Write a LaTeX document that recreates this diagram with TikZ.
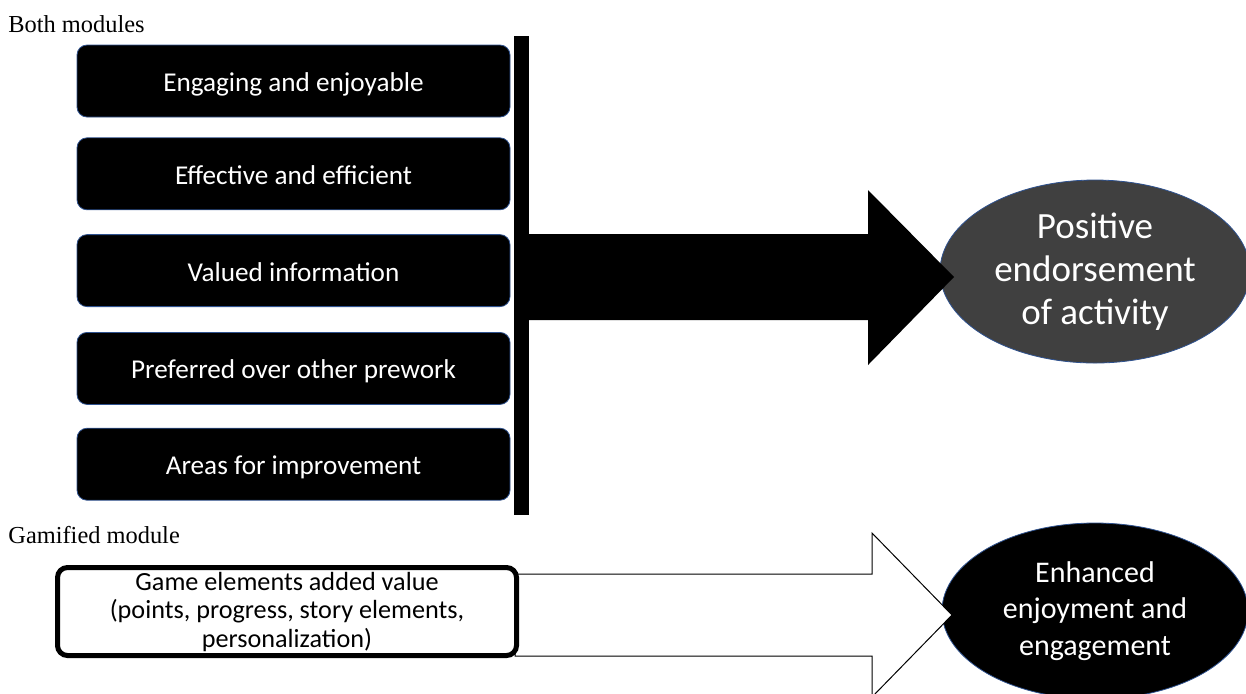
\documentclass[tikz,border=0pt]{standalone}
\usepackage{fontspec}
\setmainfont{Liberation Serif}
\newfontfamily\boxfont{Carlito}
\usetikzlibrary{shapes.geometric, positioning}
\definecolor{myborderblue}{RGB}{47,82,143}
\definecolor{mydarkgray}{RGB}{64,64,64}
\newcommand{\widthbox}{216.5pt}
\newcommand{\heightbox}{36pt}
\tikzset{
    common/.style={rounded corners=5pt, align=center, inner sep=2pt},
    theme/.style={common, draw=myborderblue, fill=black, text=white, minimum width=\widthbox, minimum height=\heightbox, text height=10.5pt, text depth=0pt, font=\boxfont\fontsize{13.6}{16}\selectfont},
    game/.style={common, draw=black, line width=2.5pt, fill=white, minimum width=229.5pt, minimum height=44pt, font=\boxfont\fontsize{13.1}{14.25}\selectfont},
    outcome/.style={ellipse, draw=myborderblue, inner sep=0pt, text=white, align=center},
    heading/.style={anchor=west, inner sep=0pt, font=\fontsize{12.2}{14}\selectfont},
    blockarrow/.style={draw=black, line width=0.5pt}
}

\begin{document}
\begin{tikzpicture}[x=0.5pt, y=-0.5pt]
            \path[use as bounding box, clip] (0,0) rectangle (1246,693);

            % both modules
            \node[heading] (both) at (8,24) {Both modules};
            \node[theme] (engaging) at (293.5,81) {Engaging and enjoyable};
            \node[theme, below=10pt of engaging] (effective) {Effective and efficient};
            \node[theme, below=12pt of effective] (valued) {Valued information};
            \node[theme, below=12.5pt of valued] (preferred) {Preferred over other prework};
            \node[theme, below=11.5pt of preferred] (areas) {Areas for improvement};
            \node[fill=black, inner sep=0pt, minimum width=7.5pt, minimum height=239.5pt] (bar) at (521.5,275.5) {};

            \node[outcome, fill=mydarkgray, minimum width=155pt, minimum height=91.5pt, font=\boxfont\fontsize{18.5}{21.5}\selectfont] (positive) at (1095,271.5) {Positive\\endorsement\\of activity};
            \fill[black] (529,234) -- (868,234) -- (868,190) -- (954,277) -- (868,365) -- (868,320) -- (529,320) -- cycle;

            % gamified module
            \node[heading] (gamified) at (8,535) {Gamified module};
            \node[outcome, fill=black, minimum width=153pt, minimum height=88pt, font=\boxfont\fontsize{15}{18.25}\selectfont] (enhanced) at (1095,611) {Enhanced\\enjoyment and\\engagement};
            \filldraw[blockarrow, fill=white] (515,574) -- (872,574) -- (872,533) -- (952,615) -- (872,697) -- (872,656) -- (515,656) -- cycle;
            \node[game] (elements) at (287,611.5) {Game elements added value\\(points, progress, story elements,\\personalization)};
\end{tikzpicture}
\end{document}
